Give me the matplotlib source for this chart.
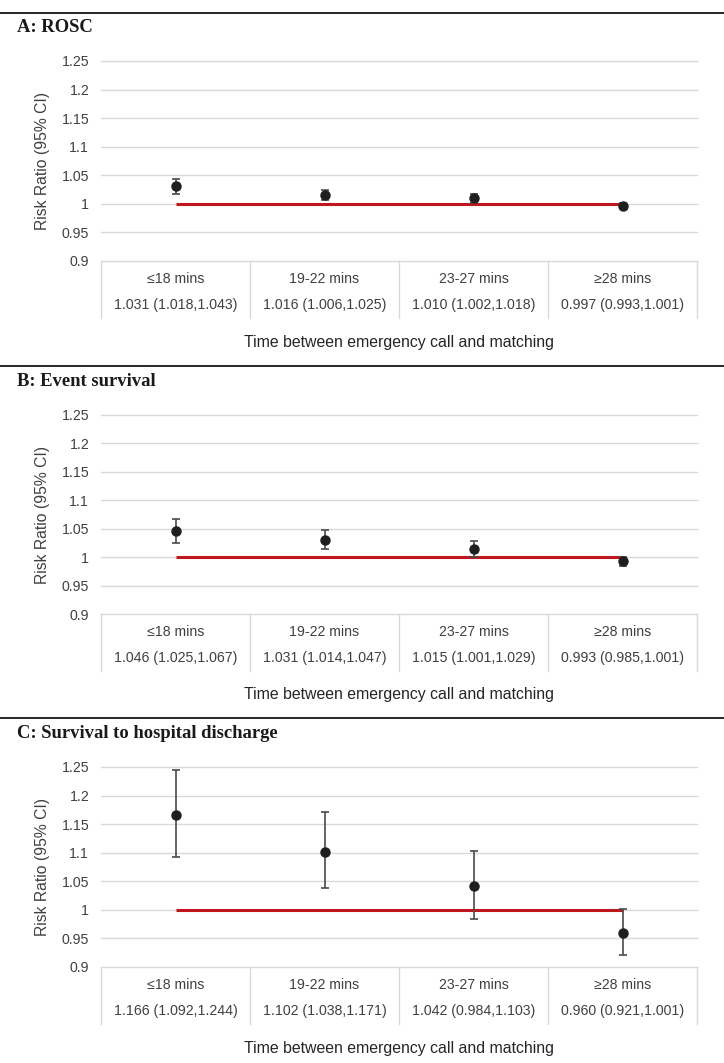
import matplotlib.pyplot as plt
from matplotlib.ticker import FuncFormatter
import matplotlib.transforms as mtransforms

plt.rcParams['font.family'] = ['Liberation Sans', 'DejaVu Sans']

categories = ["≤18 mins", "19-22 mins", "23-27 mins", "≥28 mins"]
titles = ["A: ROSC", "B: Event survival", "C: Survival to hospital discharge"]

rosc_rr = [1.031, 1.016, 1.010, 0.997]
rosc_lo = [1.018, 1.006, 1.002, 0.993]
rosc_hi = [1.043, 1.025, 1.018, 1.001]

event_rr = [1.046, 1.031, 1.015, 0.993]
event_lo = [1.025, 1.014, 1.001, 0.985]
event_hi = [1.067, 1.047, 1.029, 1.001]

disch_rr = [1.166, 1.102, 1.042, 0.960]
disch_lo = [1.092, 1.038, 0.984, 0.921]
disch_hi = [1.244, 1.171, 1.103, 1.001]

yticks = [0.9, 0.95, 1.0, 1.05, 1.1, 1.15, 1.2, 1.25]

panels = [(rosc_rr, rosc_lo, rosc_hi),
          (event_rr, event_lo, event_hi),
          (disch_rr, disch_lo, disch_hi)]

W, H = 724, 1063
fig = plt.figure(figsize=(W / 100, H / 100), dpi=100)

# pixel positions (top line, axes top, axes bottom) for each panel
rule_y = [13, 366, 718]
ax_top = [61, 415, 767]
ax_bot = [261, 614, 967]
left, right = 101, 697
grid_c = "#d9d9d9"
text_c = "#404040"

for i, (rr, lo, hi) in enumerate(panels):
    # black rule across the page and the bold title
    fig.add_artist(plt.Line2D([0, 1], [1 - rule_y[i] / H] * 2, color="black", lw=1.2,
                              transform=fig.transFigure))
    fig.text(17 / W, 1 - (rule_y[i] + 15) / H, titles[i], family="Liberation Serif",
             fontweight="bold", fontsize=13.4, va="center", ha="left", color="#1a1a1a")

    ax = fig.add_axes([left / W, 1 - ax_bot[i] / H, (right - left) / W, (ax_bot[i] - ax_top[i]) / H])
    x = list(range(len(categories)))
    ax.set_xlim(-0.5, len(categories) - 0.5)
    ax.set_ylim(0.9, 1.25)
    ax.set_yticks(yticks)
    ax.yaxis.set_major_formatter(FuncFormatter(lambda v, p: f"{v:g}"))
    ax.tick_params(axis="y", length=0, pad=8.5, labelsize=10.2, labelcolor=text_c)
    ax.set_xticks([])
    for s in ax.spines.values():
        s.set_visible(False)
    for t in yticks:
        ax.axhline(t, color=grid_c, lw=1, zorder=0, clip_on=False)

    ax.plot([x[0], x[-1]], [1, 1], color="#c0161f", lw=2.2, zorder=2, solid_capstyle="butt")
    yerr = [[r - l for r, l in zip(rr, lo)], [h - r for r, h in zip(rr, hi)]]
    ax.errorbar(x, rr, yerr=yerr, fmt="o", color="#1f1f1f", ms=6.5, ecolor="#4a4a4a",
                elinewidth=1.2, capsize=3, capthick=1.2, zorder=3)

    ax.set_ylabel("Risk Ratio (95% CI)", fontsize=11.3, color=text_c)
    ax.yaxis.set_label_coords(-51 / (right - left), 0.5)

    # table under the axis
    trans = mtransforms.blended_transform_factory(ax.transData, ax.transAxes)
    hpx = ax_bot[i] - ax_top[i]
    for xs in [k - 0.5 for k in range(len(categories) + 1)]:
        ax.plot([xs, xs], [0, -57 / hpx], color=grid_c, lw=1, transform=trans, clip_on=False)
    for k, cat in enumerate(categories):
        ax.text(k, -18 / hpx, cat, transform=trans, ha="center", va="center",
                fontsize=10.2, color=text_c)
        ax.text(k, -44 / hpx, f"{rr[k]:.3f} ({lo[k]:.3f},{hi[k]:.3f})", transform=trans,
                ha="center", va="center", fontsize=10.2, color=text_c)
    ax.text(0.5, -81 / hpx, "Time between emergency call and matching", transform=ax.transAxes,
            ha="center", va="center", fontsize=11.4, color="#262626")

fig.savefig("out.png", dpi=100)
